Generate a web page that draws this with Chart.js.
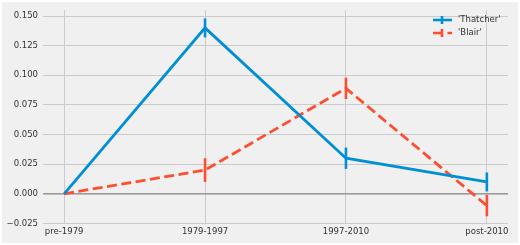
<!DOCTYPE html>
<html>
<head>
<meta charset="utf-8">
<script src="https://cdn.jsdelivr.net/npm/chart.js@4.4.1/dist/chart.umd.min.js"></script>
<style>
    html, body { margin: 0; padding: 0; background: #fff; }
</style>
</head>
<body>
<canvas id="chart" width="520" height="245"></canvas>
<script>
// Data
const periods = ['pre-1979', '1979-1997', '1997-2010', 'post-2010'];
const thatcherValues = [0, 0.140, 0.030, 0.010];
const thatcherErrors = [0, 0.008, 0.009, 0.008];
const blairValues = [0, 0.020, 0.089, -0.010];
const blairErrors = [0, 0.010, 0.009, 0.009];
const yTicks = [-0.025, 0, 0.025, 0.05, 0.075, 0.1, 0.125, 0.15];

const blue = '#008fd5';
const red = '#fc4f30';
const textColor = '#333';
const font = { family: 'DejaVu Sans', size: 8.5 };

function toPoints(values) {
    return values.map((v, i) => ({ x: i, y: v }));
}

// Plugins
const background = {
    id: 'background',
    beforeDraw(chart) {
        const ctx = chart.ctx;
        ctx.save();
        ctx.fillStyle = '#fff';
        ctx.fillRect(0, 0, chart.width, chart.height);
        ctx.fillStyle = '#f0f0f0';
        ctx.fillRect(2, 2, chart.width - 4, chart.height - 4);
        ctx.restore();
    }
};

const zeroLine = {
    id: 'zeroLine',
    beforeDatasetsDraw(chart) {
        const { ctx, chartArea, scales } = chart;
        const y = scales.y.getPixelForValue(0);
        ctx.save();
        ctx.strokeStyle = '#8a8a8a';
        ctx.lineWidth = 1.3;
        ctx.beginPath();
        ctx.moveTo(chartArea.left, y);
        ctx.lineTo(chartArea.right, y);
        ctx.stroke();
        ctx.restore();
    }
};

const errorBars = {
    id: 'errorBars',
    afterDatasetsDraw(chart) {
        const { ctx, scales } = chart;
        ctx.save();
        chart.data.datasets.forEach(ds => {
            ctx.strokeStyle = ds.borderColor;
            ctx.lineWidth = 2.6;
            ds.data.forEach((p, i) => {
                const err = ds.errors[i];
                if (!err) return;
                const x = scales.x.getPixelForValue(p.x);
                ctx.beginPath();
                ctx.moveTo(x, scales.y.getPixelForValue(p.y - err));
                ctx.lineTo(x, scales.y.getPixelForValue(p.y + err));
                ctx.stroke();
            });
        });
        ctx.restore();
    }
};

const customLegend = {
    id: 'customLegend',
    afterDraw(chart) {
        const ctx = chart.ctx;
        ctx.save();
        chart.data.datasets.forEach((ds, i) => {
            const y = 20 + i * 13;
            ctx.strokeStyle = ds.borderColor;
            ctx.lineWidth = 2.6;
            ctx.setLineDash(ds.borderDash || []);
            ctx.beginPath();
            ctx.moveTo(433, y);
            ctx.lineTo(452, y);
            ctx.stroke();
            ctx.setLineDash([]);
            ctx.beginPath();
            ctx.moveTo(442, y - 4);
            ctx.lineTo(442, y + 4);
            ctx.stroke();
            ctx.fillStyle = textColor;
            ctx.font = `${font.size}px ${font.family}`;
            ctx.textAlign = 'left';
            ctx.textBaseline = 'middle';
            ctx.fillText(ds.label, 458, y);
        });
        ctx.restore();
    }
};

// Chart
new Chart(document.getElementById('chart'), {
    type: 'line',
    data: {
        datasets: [
            { label: "'Thatcher'", data: toPoints(thatcherValues), errors: thatcherErrors,
              borderColor: blue, borderWidth: 2.8, pointRadius: 0, tension: 0 },
            { label: "'Blair'", data: toPoints(blairValues), errors: blairErrors,
              borderColor: red, borderWidth: 2.8, borderDash: [10, 4.5], pointRadius: 0, tension: 0 }
        ]
    },
    options: {
        responsive: false,
        animation: false,
        devicePixelRatio: 1,
        layout: { padding: { top: 10, right: 12, left: 0, bottom: 0 } },
        plugins: { legend: { display: false }, tooltip: { enabled: false } },
        scales: {
            x: {
                type: 'linear',
                min: -0.15,
                max: 3.15,
                afterBuildTicks: s => { s.ticks = periods.map((p, i) => ({ value: i })); },
                afterFit: s => { s.height = 21; },
                grid: { color: '#cbcbcb', lineWidth: 1, drawTicks: false },
                border: { display: false },
                ticks: { autoSkip: false, maxRotation: 0, padding: 3, color: textColor, font,
                         callback: v => periods[v] }
            },
            y: {
                min: -0.0255,
                max: 0.155,
                afterBuildTicks: s => { s.ticks = yTicks.map(v => ({ value: v })); },
                afterFit: s => { s.width = 43; },
                grid: { color: '#cbcbcb', lineWidth: 1, drawTicks: false },
                border: { display: false },
                ticks: { padding: 5, color: textColor, font,
                         callback: v => (v < 0 ? '\u2212' : '') + Math.abs(v).toFixed(3) }
            }
        }
    },
    plugins: [background, zeroLine, errorBars, customLegend]
});
</script>
</body>
</html>
